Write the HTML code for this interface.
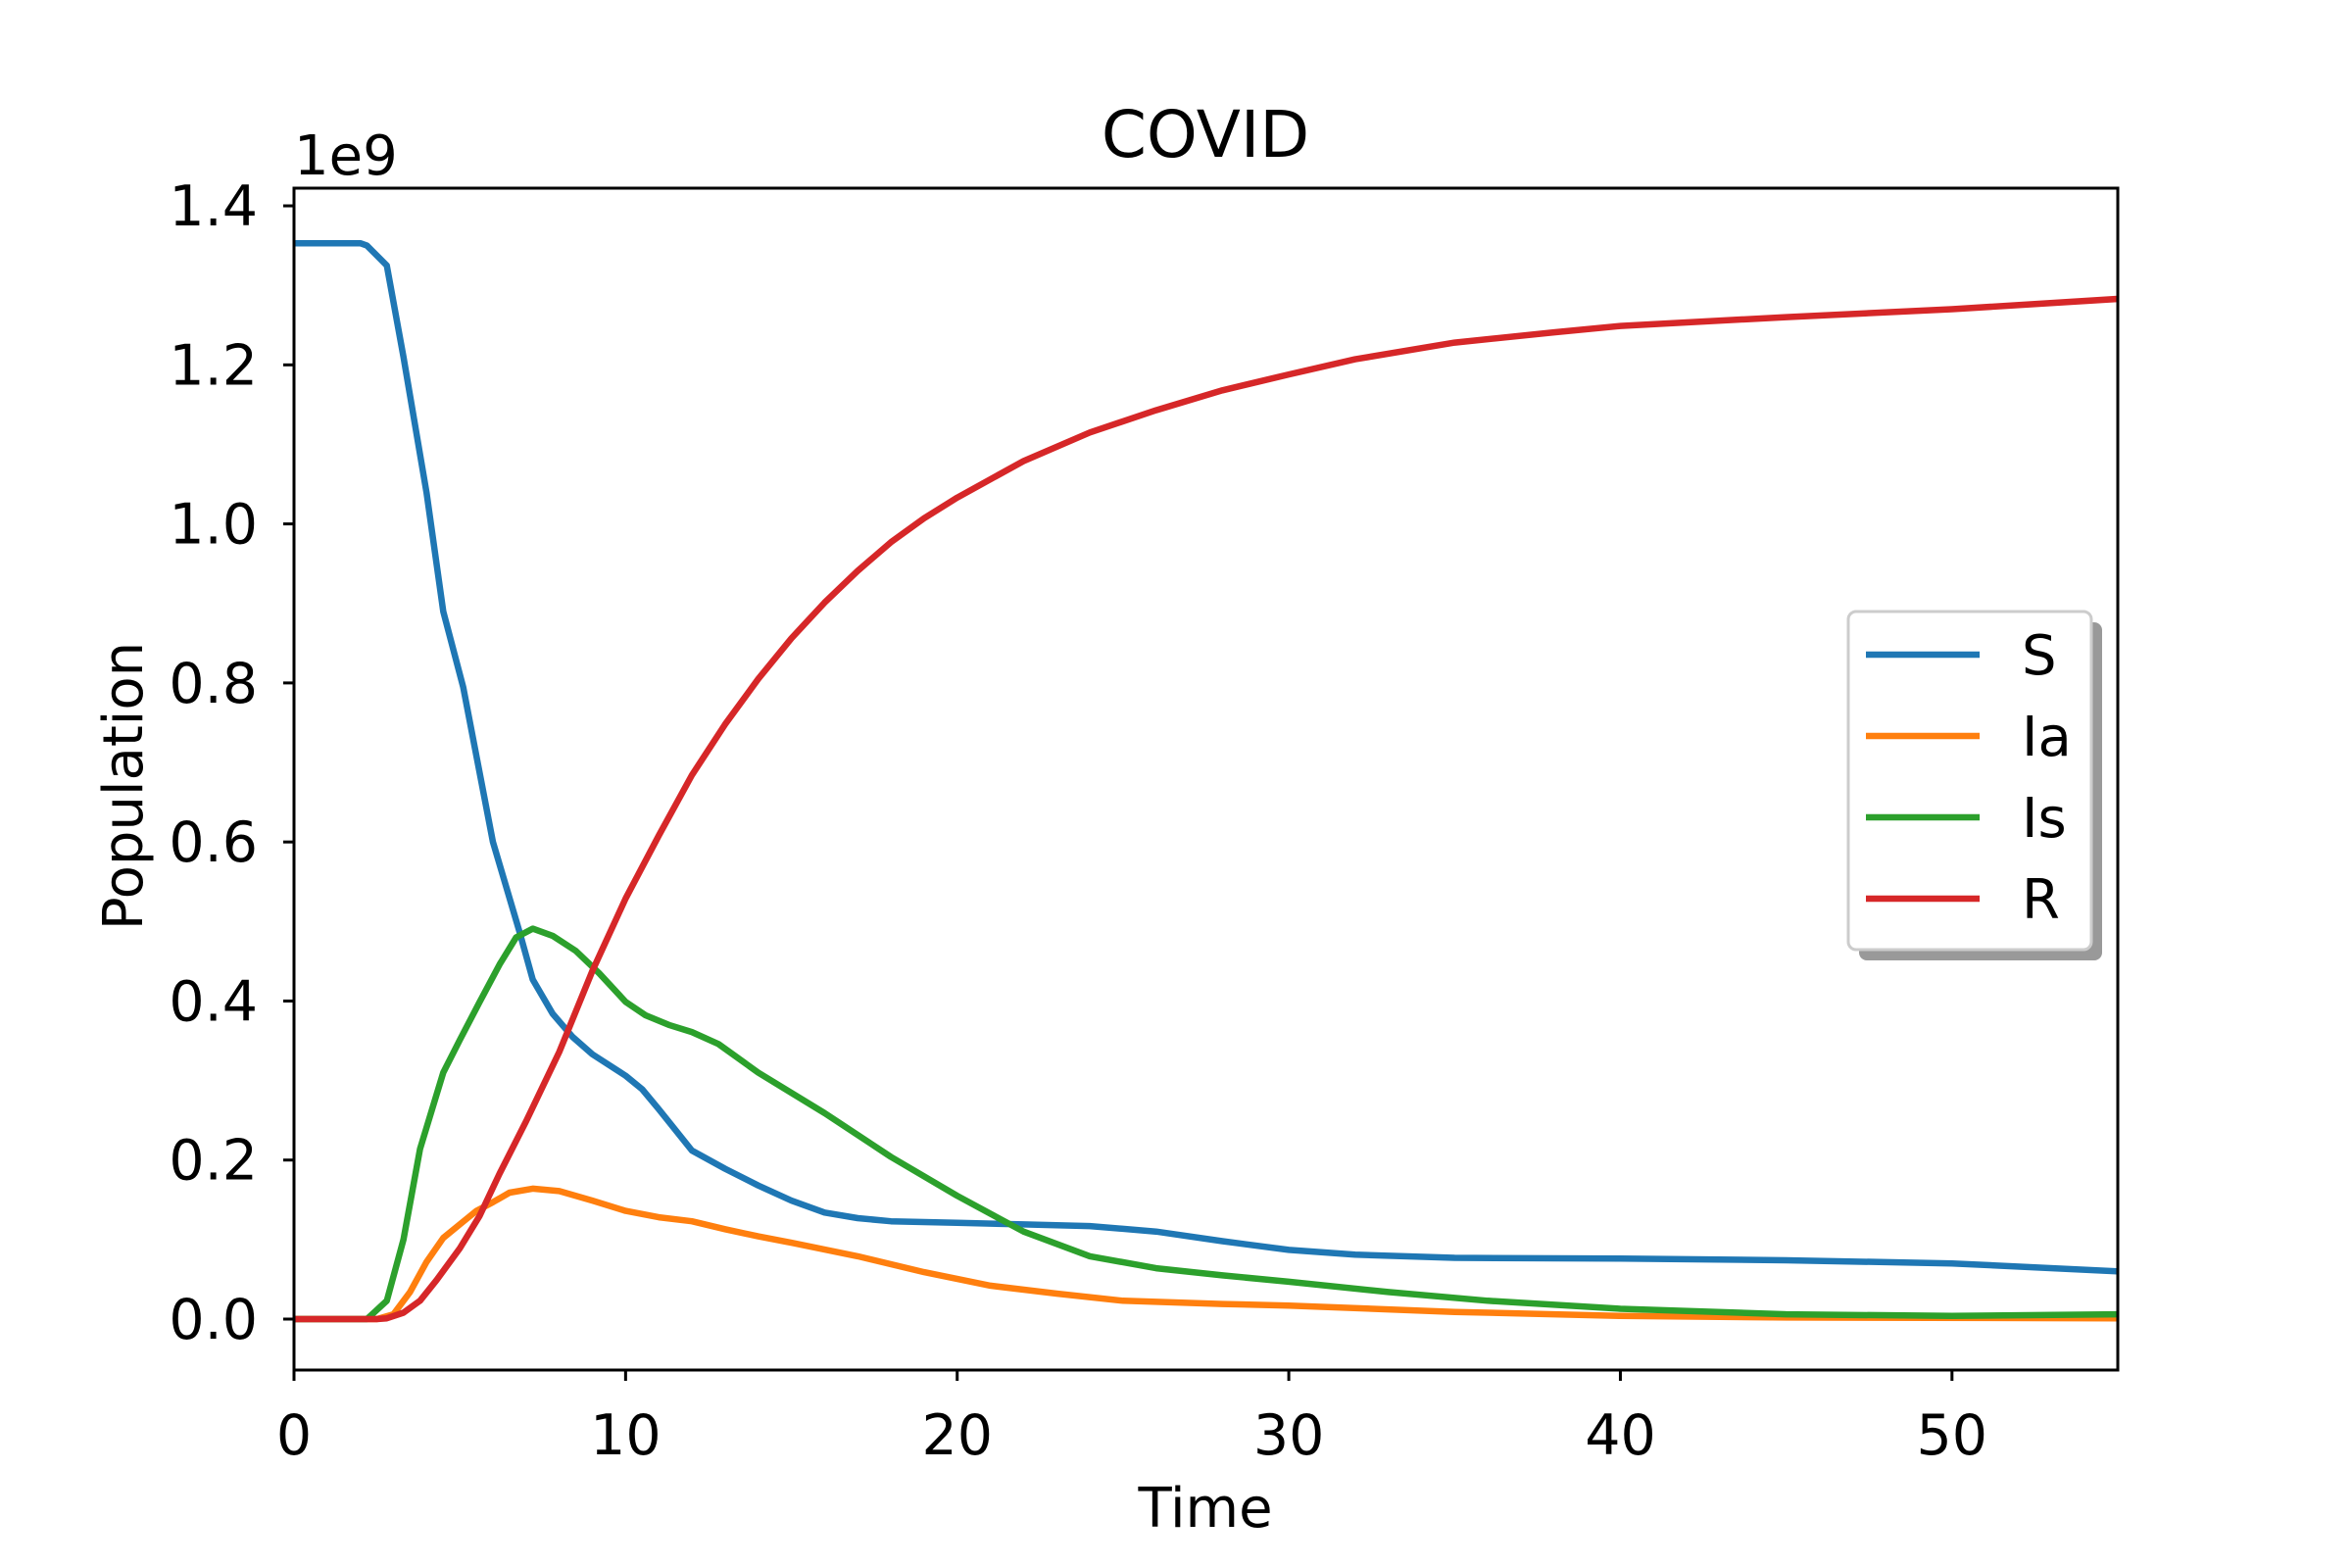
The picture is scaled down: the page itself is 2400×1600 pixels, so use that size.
<!DOCTYPE html>
<html><head><meta charset="utf-8"><style>
html,body{margin:0;padding:0;background:#fff}
svg{display:block}
text{font-family:"DejaVu Sans","Liberation Sans",sans-serif;fill:#000}
</style></head><body>
<svg id="chart" width="2400" height="1600" viewBox="0 0 2400 1600" xmlns="http://www.w3.org/2000/svg">
<rect width="2400" height="1600" fill="#fff"/>
<text x="1230" y="160" font-size="66" text-anchor="middle">COVID</text>
<text x="300" y="178" font-size="56">1e9</text>
<text transform="translate(145,802) rotate(-90)" font-size="56" text-anchor="middle">Population</text>
<text x="1230" y="1558" font-size="56" text-anchor="middle">Time</text>
<g id="ticks"></g>
<g id="series"></g>
<rect x="300" y="192" width="1861" height="1206" fill="none" stroke="#000" stroke-width="3"/>
<g id="legend"></g>
</svg>
<script>
const sT=[0,2,2.2,2.8,3.3,4,4.5,5.1,6,6.8,7.2,7.8,8.4,9,10,10.5,11,12,13,14,15,16,17,18,20,22,24,26,28,30,32,35,40,45,50,55];
const sV=[1.353,1.353,1.35,1.325,1.21,1.039,0.89,0.795,0.60,0.487,0.427,0.384,0.355,0.333,0.306,0.289,0.264,0.212,0.189,0.168,0.149,0.134,0.127,0.123,0.121,0.119,0.117,0.110,0.098,0.087,0.081,0.077,0.076,0.074,0.070,0.060];
const iaT=[0,2.5,3,3.5,4,4.5,5,5.5,6,6.5,7.2,8,9,10,11,12,13,14,15,17,19,21,23,25,28,30,35,40,45,55];
const iaV=[0,0,0.006,0.034,0.072,0.102,0.119,0.136,0.147,0.159,0.164,0.161,0.149,0.136,0.128,0.123,0.113,0.104,0.096,0.079,0.059,0.042,0.032,0.023,0.019,0.017,0.009,0.004,0.002,0.001];
const isT=[0,2.2,2.8,3.3,3.8,4.5,5,5.6,6.2,6.7,7.2,7.8,8.5,9.2,10,10.6,11.3,12,12.8,14,16,18,20,22,24,26,28,30,33,36,40,45,50,55];
const isV=[0,0,0.023,0.10,0.214,0.31,0.351,0.399,0.446,0.48,0.491,0.482,0.463,0.435,0.399,0.382,0.37,0.361,0.346,0.31,0.259,0.204,0.155,0.110,0.079,0.064,0.055,0.047,0.034,0.023,0.013,0.006,0.004,0.006];
const rT=[0,2.5,2.8,3.3,3.8,4.3,5,5.6,6.2,7,8,9,10,11,12,13,14,15,16,17,18,19,20,22,24,26,28,30,32,35,38,40,45,50,55];
const rV=[0,0,0.001,0.008,0.023,0.049,0.089,0.13,0.183,0.249,0.336,0.438,0.529,0.608,0.684,0.748,0.805,0.856,0.901,0.941,0.977,1.007,1.033,1.079,1.115,1.143,1.168,1.188,1.207,1.228,1.241,1.249,1.260,1.270,1.283];
const xTicks=[0,10,20,30,40,50];
const yTicks=[0,0.2,0.4,0.6,0.8,1.0,1.2,1.4];
const yTickLabels=["0.0","0.2","0.4","0.6","0.8","1.0","1.2","1.4"];
const seriesNames=["S","Ia","Is","R"];
const seriesColors=["#1f77b4","#ff7f0e","#2ca02c","#d62728"];

const NS="http://www.w3.org/2000/svg";
const X=t=>300+t*(1861/55);
const Y=v=>1346-v*811.4;
function mk(tag,attrs,parent){const e=document.createElementNS(NS,tag);for(const k in attrs)e.setAttribute(k,attrs[k]);parent.appendChild(e);return e;}
const tg=document.getElementById('ticks');
xTicks.forEach(t=>{
  const l=mk('line',{x1:X(t),x2:X(t),y1:1398,y2:1409,stroke:'#000','stroke-width':3},tg);
  
  
  const tx=mk('text',{x:X(t),y:1484,'font-size':57,'text-anchor':'middle'},tg);
  tx.textContent=t;
  
  
});
yTicks.forEach((v,i)=>{
  const l=mk('line',{x1:289,x2:300,y1:Y(v),y2:Y(v),stroke:'#000','stroke-width':3},tg);
  
  
  const tx=mk('text',{x:263,y:Y(v)+20,'font-size':57,'text-anchor':'end'},tg);
  tx.textContent=yTickLabels[i];
  
  
});
const sg=document.getElementById('series');
const data=[[sT,sV],[iaT,iaV],[isT,isV],[rT,rV]];
data.forEach((d,i)=>{
  const pts=d[0].map((t,j)=>X(t).toFixed(1)+','+Y(d[1][j]).toFixed(1)).join(' ');
  const p=mk('polyline',{points:pts,fill:'none',stroke:seriesColors[i],'stroke-width':6.5,'stroke-linejoin':'round'},sg);
  
  
});
const lg=document.getElementById('legend');
const sh=mk('rect',{x:1897,y:635,width:248,height:345,rx:8,fill:'#999'},lg);


const bx=mk('rect',{x:1886,y:624,width:248,height:345,rx:8,fill:'#fff',stroke:'#ccc','stroke-width':3},lg);


seriesNames.forEach((n,i)=>{
  const y=668+i*83;
  const l=mk('line',{x1:1904,x2:2020,y1:y,y2:y,stroke:seriesColors[i],'stroke-width':6.5},lg);
  
  
  const t=mk('text',{x:2063,y:y+20,'font-size':56},lg);
  t.textContent=n;
  
  
});
</script>
</body></html>
